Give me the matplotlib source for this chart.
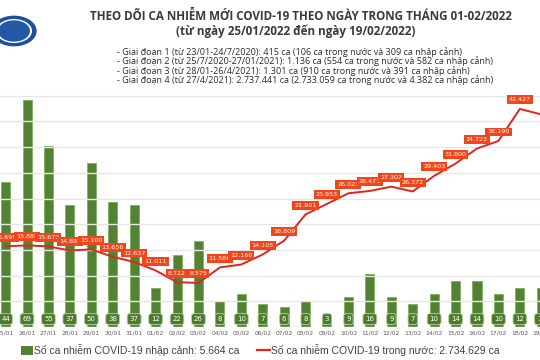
import matplotlib
matplotlib.use("Agg")
import matplotlib.pyplot as plt
from matplotlib.patches import Rectangle, Circle
from matplotlib.lines import Line2D

dates = ["25/01", "26/01", "27/01", "28/01", "29/01", "30/01", "31/01",
         "01/02", "02/02", "03/02", "04/02", "05/02", "06/02", "07/02",
         "08/02", "09/02", "10/02", "11/02", "12/02", "13/02", "14/02",
         "15/02", "16/02", "17/02", "18/02", "19/02"]
imported = [44, 69, 55, 37, 50, 38, 37, 12, 22, 26, 8, 10, 7, 6, 8, 3, 9,
            16, 9, 7, 10, 14, 14, 10, 12, 12]
domestic = [15699, 15885, 15672, 14892, 15100, 13656, 12637, 11011, 8722,
            8575, 11586, 12160, 14105, 16809, 21901, 23953, 26023, 26471,
            27302, 26372, 29403, 31800, 34723, 36190, 42427, 41351]
domestic_labels = ["15.699", "15.885", "15.672", "14.892", "15.100", "13.656",
                   "12.637", "11.011", "8.722", "8.575", "11.586", "12.160",
                   "14.105", "16.809", "21.901", "23.953", "26.023", "26.471",
                   "27.302", "26.372", "29.403", "31.800", "34.723", "36.190",
                   "42.427", "41.351"]
grid_vals = [0, 5000, 10000, 15000, 20000, 25000, 30000, 35000, 40000, 45000]

title = "THEO DÕI CA NHIỄM MỚI COVID-19 THEO NGÀY TRONG THÁNG 01-02/2022"
subtitle = "(từ ngày 25/01/2022 đến ngày 19/02/2022)"
notes = [
    "- Giai đoạn 1 (từ 23/01-24/7/2020): 415 ca (106 ca trong nước và 309 ca nhập cảnh)",
    "- Giai đoạn 2 (từ 25/7/2020-27/01/2021): 1.136 ca (554 ca trong nước và 582 ca nhập cảnh)",
    "- Giai đoạn 3 (từ 28/01-26/4/2021): 1.301 ca (910 ca trong nước và 391 ca nhập cảnh)",
    "- Giai đoạn 4 (từ 27/4/2021): 2.737.441 ca (2.733.059 ca trong nước và 4.382 ca nhập cảnh)",
]
legend_bar = "Số ca nhiễm COVID-19 nhập cảnh: 5.664 ca"
legend_line = "Số ca nhiễm COVID-19 trong nước: 2.734.629 ca"

W, H = 540, 360
fig = plt.figure(figsize=(5.4, 3.6), dpi=100)
fig.patch.set_facecolor("white")

base_px = 327
top_px = 60
ax_h = (base_px - top_px) / H
ax = fig.add_axes([0, (H - base_px) / H, 1, ax_h])
ax2 = ax.twinx()
ax.set_zorder(1)
ax2.set_zorder(2)
ax.patch.set_visible(False)
ax2.patch.set_visible(False)

x = list(range(len(dates)))
ax.set_xlim(-0.26, 24.94)
ax.set_ylim(0, (base_px - top_px) / 3.29)
ax2.set_ylim(0, (base_px - top_px) / 5.14 * 1000)

for g in grid_vals:
    ax2.axhline(g, color="#e6e6e6", lw=1.0, zorder=0)

ax.bar(x, imported, width=0.42, color="#548235", edgecolor="#7cb25a",
       linewidth=0.6, zorder=2)
for i, v in enumerate(imported):
    ax.text(i, 2.4, str(v), ha="center", va="center", fontsize=5,
            color="white", zorder=3,
            bbox=dict(boxstyle="round,pad=0.35", fc="#4a7c2c", ec="#b5d69c",
                      lw=0.6))
for i, d in enumerate(dates):
    ax.text(i, -0.024, d, transform=ax.get_xaxis_transform(), ha="center",
            va="center", fontsize=4.3, color="#595959", clip_on=False)

ax2.plot(x, domestic, color="#e3241b", lw=1.4, zorder=3)
for i, (v, lab) in enumerate(zip(domestic, domestic_labels)):
    ax2.annotate(lab, (i, v), xytext=(0, 6.5), textcoords="offset points",
                 ha="center", va="center", fontsize=4.6, color="white",
                 zorder=4,
                 bbox=dict(boxstyle="square,pad=0.3", fc="#f2461a", ec="none"))

for a in (ax, ax2):
    for s in a.spines.values():
        s.set_visible(False)
    a.set_xticks([])
    a.set_yticks([])

# Header texts
fig.text(301 / W, 1 - 16 / H, title, ha="center", va="center", fontsize=8.4,
         fontweight="bold", color="#3a3a3a", family="Open Sans")
fig.text(296 / W, 1 - 31 / H, subtitle, ha="center", va="center", fontsize=8.4,
         fontweight="bold", color="#3a3a3a", family="Open Sans")
for k, line in enumerate(notes):
    fig.text(117 / W, 1 - (51.7 + 9.5 * k) / H, line, ha="left", va="center",
             fontsize=6.5, color="#2a2a2a", family="Open Sans")

# Logo (simplified emblem)
lx, ly, lr = 14, 31, 22
fig.patches.append(Circle((lx / W, 1 - ly / H), lr / W, transform=fig.transFigure,
                          fc="#1f4e9c", ec="#1f4e9c"))
fig.patches.append(Circle((lx / W, 1 - ly / H), (lr - 4) / W, transform=fig.transFigure,
                          fc="white", ec="none"))
fig.patches.append(Circle((lx / W, 1 - ly / H), (lr - 6) / W, transform=fig.transFigure,
                          fc="#2457a6", ec="none"))

# Legend
fig.patches.append(Rectangle((21 / W, 1 - 355 / H), 12 / W, 9 / H,
                             transform=fig.transFigure, fc="#548235", ec="none"))
fig.text(34 / W, 1 - 350 / H, legend_bar, ha="left", va="center", fontsize=7.5,
         color="#404040", family="Liberation Sans")
fig.lines.append(Line2D([257 / W, 270 / W], [1 - 350 / H, 1 - 350 / H],
                        transform=fig.transFigure, color="#e3241b", lw=1.6))
fig.text(271 / W, 1 - 350 / H, legend_line, ha="left", va="center", fontsize=7.5,
         color="#404040", family="Liberation Sans")

fig.savefig("out.png", dpi=100)
